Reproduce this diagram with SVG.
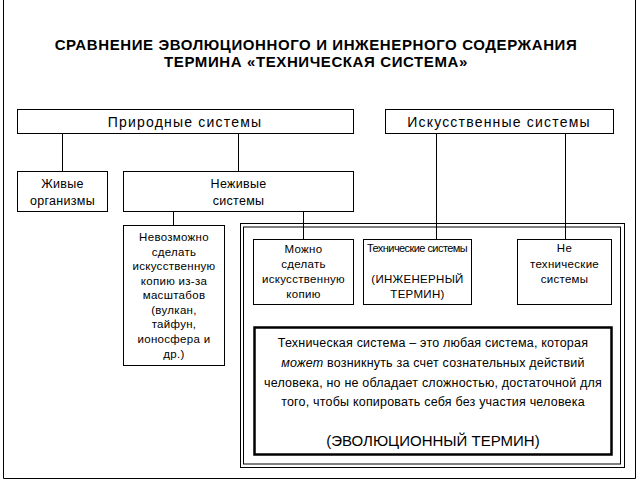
<svg xmlns="http://www.w3.org/2000/svg" width="637" height="481" viewBox="0 0 637 481">
<style>
  .box { fill: #fff; stroke: #000; stroke-width: 1; }
  .frame { fill: none; stroke: #000; stroke-width: 1; }
  .thick { fill: #fff; stroke: #000; stroke-width: 2.5; }
  .conn { stroke: #000; stroke-width: 1; fill: none; }
  text { font-family: "Liberation Sans", Arial, sans-serif; fill: #000; text-anchor: middle; }
  .title { font-size: 15px; font-weight: bold; letter-spacing: 0.6px; }
  .big { font-size: 14px; letter-spacing: 1.2px; }
  .mid { font-size: 12.5px; letter-spacing: 0.3px; }
  .small { font-size: 11.5px; letter-spacing: 0.3px; }
  .def { font-size: 12.5px; letter-spacing: 0.2px; }
  .term { font-size: 15px; }
</style>
<rect x="0" y="0" width="637" height="481" fill="#fff"/>
<path class="frame" d="M3.5,0 V478.5 H635.5 V0"/>

<g id="title">
  <text class="title" x="316" y="50">СРАВНЕНИЕ ЭВОЛЮЦИОННОГО И ИНЖЕНЕРНОГО СОДЕРЖАНИЯ</text>
  <text class="title" x="316" y="67">ТЕРМИНА «ТЕХНИЧЕСКАЯ СИСТЕМА»</text>
</g>

<g id="connectors">
  <line class="conn" x1="62.5" y1="133" x2="62.5" y2="171"/>
  <line class="conn" x1="238.5" y1="133" x2="238.5" y2="171"/>
  <line class="conn" x1="173.5" y1="211" x2="173.5" y2="225"/>
  <line class="conn" x1="303.5" y1="211" x2="303.5" y2="239"/>
  <line class="conn" x1="436.5" y1="133" x2="436.5" y2="239"/>
  <line class="conn" x1="565.5" y1="133" x2="565.5" y2="239"/>
</g>

<g id="evolution-frame">
  <rect class="frame" x="240.5" y="223.5" width="384" height="244"/>
  <rect class="frame" x="243.5" y="227" width="377" height="237"/>
</g>

<g id="natural">
  <rect class="box" x="17.5" y="109.5" width="336" height="24"/>
  <text class="big" x="185" y="127">Природные системы</text>
</g>

<g id="artificial">
  <rect class="box" x="385.5" y="109.5" width="228" height="24"/>
  <text class="big" x="499" y="127">Искусственные системы</text>
</g>

<g id="living">
  <rect class="box" x="17.5" y="171.5" width="90" height="40"/>
  <text class="mid" x="62.5" y="188">Живые</text>
  <text class="mid" x="62.5" y="205">организмы</text>
</g>

<g id="nonliving">
  <rect class="box" x="123.5" y="171.5" width="230" height="40"/>
  <text class="mid" x="238.5" y="188">Неживые</text>
  <text class="mid" x="238.5" y="205">системы</text>
</g>

<g id="impossible">
  <rect class="box" x="123.5" y="225.5" width="101" height="140"/>
  <text class="small" x="174" y="241">Невозможно</text>
  <text class="small" x="174" y="256">сделать</text>
  <text class="small" x="174" y="270">искусственную</text>
  <text class="small" x="174" y="285">копию из-за</text>
  <text class="small" x="174" y="299">масштабов</text>
  <text class="small" x="174" y="314">(вулкан,</text>
  <text class="small" x="174" y="328">тайфун,</text>
  <text class="small" x="174" y="343">ионосфера и</text>
  <text class="small" x="174" y="358">др.)</text>
</g>

<g id="possible">
  <rect class="box" x="253.5" y="239.5" width="100" height="65"/>
  <text class="small" x="303.5" y="253">Можно</text>
  <text class="small" x="303.5" y="268">сделать</text>
  <text class="small" x="303.5" y="283">искусственную</text>
  <text class="small" x="303.5" y="298">копию</text>
</g>

<g id="technical">
  <rect class="box" x="363.5" y="239.5" width="108" height="65"/>
  <text class="small" x="417.5" y="252" style="font-size:11px" textLength="101" lengthAdjust="spacing">Технические системы</text>
  <text class="small" x="417.5" y="283">(ИНЖЕНЕРНЫЙ</text>
  <text class="small" x="417.5" y="298">ТЕРМИН)</text>
</g>

<g id="nontechnical">
  <rect class="box" x="517.5" y="239.5" width="94" height="65"/>
  <text class="small" x="564.5" y="252">Не</text>
  <text class="small" x="564.5" y="268">технические</text>
  <text class="small" x="564.5" y="283">системы</text>
</g>

<g id="definition">
  <rect class="thick" x="254.5" y="327.5" width="357" height="127"/>
  <text class="def" x="433" y="347">Техническая система – это любая система, которая</text>
  <text class="def" x="433" y="367"><tspan font-style="italic">может</tspan> возникнуть за счет сознательных действий</text>
  <text class="def" x="433" y="387">человека, но не обладает сложностью, достаточной для</text>
  <text class="def" x="433" y="406">того, чтобы копировать себя без участия человека</text>
  <text class="term" x="433" y="446">(ЭВОЛЮЦИОННЫЙ ТЕРМИН)</text>
</g>
</svg>
